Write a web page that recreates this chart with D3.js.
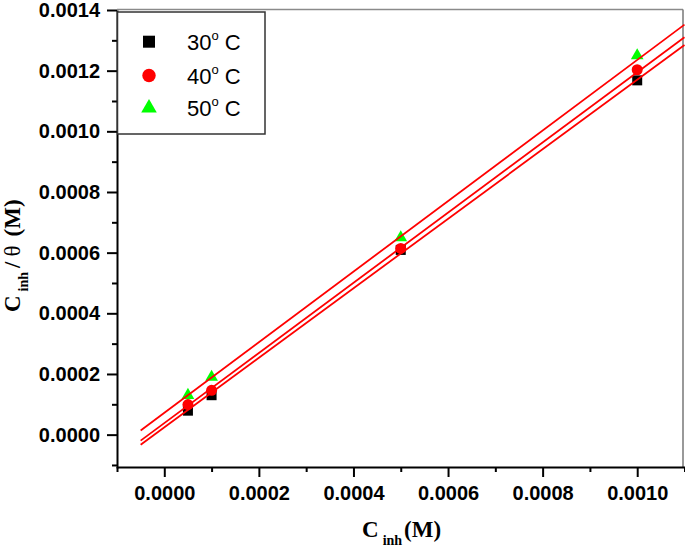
<!DOCTYPE html>
<html>
<head>
<meta charset="utf-8">
<script src="https://cdn.jsdelivr.net/npm/d3@7"></script>
<style>
  body { margin: 0; background: #fff; }
  .axis text { font-family: "Liberation Sans", Arial, sans-serif; font-weight: bold; font-size: 20px; fill: #000; }
  .axis path, .axis line { stroke: #000; stroke-width: 2; }
</style>
</head>
<body>
<svg width="685" height="547"></svg>
<script>
// concentration of inhibitor (M)
var conc = [0.00005, 0.0001, 0.0005, 0.001];
// Cinh / theta for each temperature
var t30 = [0.000079, 0.000130, 0.000609, 0.001168];
var t40 = [0.000099, 0.000146, 0.000614, 0.001203];
var t50 = [0.000130, 0.000190, 0.000650, 0.001250];
var seriesNames = ["30", "40", "50"];

// fitted lines: slope, intercept
var fitSlope = [1.146, 1.1563, 1.1635];
var fitIntercept = [0.000024, 0.000038, 0.000072];
var fitRange = [-0.00005, 0.0011];

var xTicks = [0, 0.0002, 0.0004, 0.0006, 0.0008, 0.0010];
var xMinor = [-0.0001, 0.0001, 0.0003, 0.0005, 0.0007, 0.0009, 0.0011];
var yTicks = [0, 0.0002, 0.0004, 0.0006, 0.0008, 0.0010, 0.0012, 0.0014];
var yMinor = [-0.0001, 0.0001, 0.0003, 0.0005, 0.0007, 0.0009, 0.0011, 0.0013];

var svg = d3.select("svg");

var x = d3.scaleLinear().domain([-0.0001, 0.0011]).range([117, 684.5]);
var y = d3.scaleLinear().domain([-0.00011, 0.0014]).range([468, 10]);
var fmt = d3.format(".4f");

// frame (top + right)
svg.append("line").attr("x1", 117).attr("x2", 683).attr("y1", 9.5).attr("y2", 9.5)
    .attr("stroke", "#8a8a8a").attr("stroke-width", 1.5);
svg.append("line").attr("x1", 683).attr("x2", 683).attr("y1", 9.5).attr("y2", 467)
    .attr("stroke", "#777").attr("stroke-width", 1.5);

// minor ticks
svg.append("g").attr("class", "axis").attr("transform", "translate(0,467)")
    .call(d3.axisBottom(x).tickValues(xMinor).tickSize(5).tickFormat(""))
    .select(".domain").remove();
svg.append("g").attr("class", "axis").attr("transform", "translate(117,0)")
    .call(d3.axisLeft(y).tickValues(yMinor).tickSize(5).tickFormat(""))
    .select(".domain").remove();

// major axes
svg.append("g").attr("class", "axis").attr("transform", "translate(0,467)")
    .call(d3.axisBottom(x).tickValues(xTicks).tickSizeInner(10).tickSizeOuter(0).tickPadding(9).tickFormat(fmt));
svg.append("g").attr("class", "axis").attr("transform", "translate(117,0)")
    .call(d3.axisLeft(y).tickValues(yTicks).tickSizeInner(10).tickSizeOuter(0).tickPadding(7).tickFormat(fmt));

// markers
var g = svg.append("g");
g.selectAll(".tri").data(conc).enter().append("path")
    .attr("d", d3.symbol().type(d3.symbolTriangle).size(70))
    .attr("transform", function(d, i){ return "translate(" + x(d) + "," + y(t50[i]) + ")"; })
    .attr("fill", "#00ff00");
g.selectAll(".sq").data(conc).enter().append("path")
    .attr("d", d3.symbol().type(d3.symbolSquare).size(100))
    .attr("transform", function(d, i){ return "translate(" + x(d) + "," + y(t30[i]) + ")"; })
    .attr("fill", "#000");
g.selectAll(".ci").data(conc).enter().append("circle")
    .attr("cx", function(d){ return x(d); })
    .attr("cy", function(d, i){ return y(t40[i]); })
    .attr("r", 5.5)
    .attr("fill", "#ff0000");

// fit lines
fitSlope.forEach(function(m, i){
    svg.append("line")
        .attr("x1", x(fitRange[0])).attr("y1", y(fitIntercept[i] + m * fitRange[0]))
        .attr("x2", x(fitRange[1])).attr("y2", y(fitIntercept[i] + m * fitRange[1]))
        .attr("stroke", "#ff0000").attr("stroke-width", 1.8);
});

// legend
var leg = svg.append("g");
leg.append("rect").attr("x", 117.5).attr("y", 12).attr("width", 147.5).attr("height", 122)
    .attr("fill", "#fff").attr("stroke", "#333").attr("stroke-width", 1.5);
var legY = [41.7, 75.5, 108];
leg.append("path").attr("d", d3.symbol().type(d3.symbolSquare).size(144))
    .attr("transform", "translate(149," + legY[0] + ")").attr("fill", "#000");
leg.append("circle").attr("cx", 149).attr("cy", legY[1]).attr("r", 6.7).attr("fill", "#ff0000");
leg.append("path").attr("d", d3.symbol().type(d3.symbolTriangle).size(105))
    .attr("transform", "translate(149," + legY[2] + ")").attr("fill", "#00ff00");
seriesNames.forEach(function(s, i){
    var t = leg.append("text").attr("x", 187).attr("y", legY[i] + 8)
        .attr("font-family", "Liberation Sans, Arial, sans-serif").attr("font-size", 22);
    t.append("tspan").text(s);
    t.append("tspan").attr("font-size", 13).attr("dy", -10).text("o");
    t.append("tspan").attr("dy", 10).text(" C");
});

// axis titles
var xt = svg.append("text").attr("x", 362).attr("y", 537)
    .attr("font-family", "Liberation Serif, Times New Roman, serif").attr("font-weight", "bold").attr("font-size", 23);
xt.append("tspan").text("C");
xt.append("tspan").attr("font-size", 14).attr("dx", 4).attr("dy", 8).text("inh");
xt.append("tspan").attr("dx", 2).attr("dy", -8).text("(M)");

var yt = svg.append("text").attr("transform", "translate(20,312) rotate(-90)")
    .attr("font-family", "Liberation Serif, Times New Roman, serif").attr("font-weight", "bold").attr("font-size", 23);
yt.append("tspan").text("C");
yt.append("tspan").attr("font-size", 14).attr("dx", 4).attr("dy", 8).text("inh");
yt.append("tspan").attr("dx", 4).attr("dy", -8).text("/");
yt.append("tspan").attr("dx", 5).attr("font-weight", "normal").text("\u03b8");
yt.append("tspan").attr("dx", 9).text("(M)");
</script>
</body>
</html>
